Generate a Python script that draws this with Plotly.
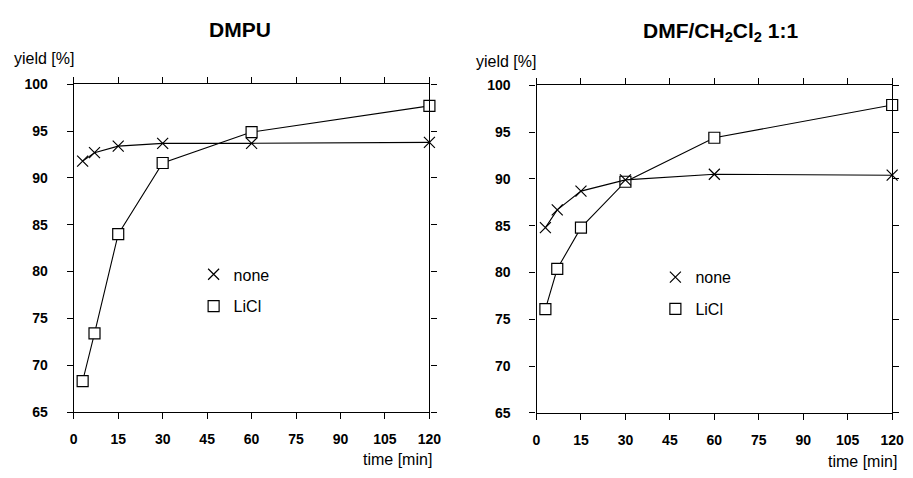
import plotly.graph_objects as go

# ---- data ----
time_min = [3, 7, 15, 30, 60, 120]
dmpu_none = [91.8, 92.7, 93.4, 93.7, 93.7, 93.8]
dmpu_licl = [68.3, 73.4, 84.0, 91.6, 94.9, 97.7]
dmf_none = [84.8, 86.7, 88.7, 89.9, 90.5, 90.4]
dmf_licl = [76.1, 80.4, 84.8, 89.7, 94.4, 97.9]
x_ticks = [0, 15, 30, 45, 60, 75, 90, 105, 120]
y_ticks = [65, 70, 75, 80, 85, 90, 95, 100]
panel_titles = ["DMPU", "DMF/CH<sub>2</sub>Cl<sub>2</sub> 1:1"]
series_names = ["none", "LiCl"]
y_label = "yield [%]"
x_label = "time [min]"

W, H = 913, 478
FONT = "Liberation Sans, Arial, Helvetica, sans-serif"


def fx(px):
    return px / W


def fy(py):
    return 1 - py / H


fig = go.Figure()

panels = [
    dict(none=dmpu_none, licl=dmpu_licl, xa="x", ya="y", leg="legend"),
    dict(none=dmf_none, licl=dmf_licl, xa="x2", ya="y2", leg="legend2"),
]

sym = {"none": dict(symbol="x-thin-open", size=11, color="black",
                    line=dict(color="black", width=1.2)),
       "LiCl": dict(symbol="square", size=11, color="white",
                    line=dict(color="black", width=1.2))}

for p in panels:
    for name, vals in (("LiCl", p["licl"]), ("none", p["none"])):
        fig.add_trace(go.Scatter(
            x=time_min, y=vals, mode="lines+markers", name=name,
            line=dict(color="black", width=1.1),
            marker=sym[name], cliponaxis=False, showlegend=False,
            xaxis=p["xa"], yaxis=p["ya"]))
    for i, name in enumerate(series_names):
        fig.add_trace(go.Scatter(
            x=[None], y=[None], mode="markers", name=name,
            marker=sym[name], legend=p["leg"], legendgroup=f"g{i}",
            xaxis=p["xa"], yaxis=p["ya"]))

axis_common = dict(
    showline=True, linecolor="black", linewidth=1.2, mirror="ticks",
    ticks="outside", ticklen=6, tickcolor="black", tickwidth=1,
    showgrid=False, zeroline=False,
    tickfont=dict(family=FONT, size=14, color="black", weight="bold"),
)

xdoms = [(71, 433), (542, 904)]
ydoms = [(79, 418), (80, 419)]

layout = dict(
    width=W, height=H, margin=dict(l=0, r=0, t=0, b=0),
    paper_bgcolor="white", plot_bgcolor="white",
    font=dict(family=FONT, color="black"),
)
for i, (xd, yd) in enumerate(zip(xdoms, ydoms)):
    sfx = "" if i == 0 else "2"
    layout["xaxis" + sfx] = dict(
        axis_common, domain=[fx(xd[0]), fx(xd[1])], range=[0, 120],
        tickvals=x_ticks, ticklabelstandoff=8,
        anchor="y" + sfx)
    layout["yaxis" + sfx] = dict(
        axis_common, domain=[fy(yd[1]), fy(yd[0])], range=[65, 100],
        tickvals=y_ticks, ticklabelstandoff=16,
        anchor="x" + sfx)

leg_common = dict(
    font=dict(family=FONT, size=16, color="black"),
    bgcolor="rgba(0,0,0,0)", xanchor="left", yanchor="top",
    tracegroupgap=8, traceorder="grouped", itemclick=False,
)
layout["legend"] = dict(leg_common, x=fx(193), y=fy(258))
layout["legend2"] = dict(leg_common, x=fx(663), y=fy(261))

fig.update_layout(**layout)

ann = []
title_centers = [(240, 22), (730, 25)]
for t, (cx, cy) in zip(panel_titles, title_centers):
    ann.append(dict(text=f"<b>{t}</b>", x=fx(cx), y=fy(cy), xref="paper",
                    yref="paper", showarrow=False, xanchor="center",
                    yanchor="middle",
                    font=dict(family=FONT, size=21, color="black")))
for lx, ly in [(8, 52), (478, 55)]:
    ann.append(dict(text=y_label, x=fx(lx), y=fy(ly), xref="paper",
                    yref="paper", showarrow=False, xanchor="left",
                    yanchor="middle",
                    font=dict(family=FONT, size=16, color="black")))
for rx, ry in [(438, 467), (911, 469)]:
    ann.append(dict(text=x_label, x=fx(rx), y=fy(ry), xref="paper",
                    yref="paper", showarrow=False, xanchor="right",
                    yanchor="middle",
                    font=dict(family=FONT, size=16, color="black")))
fig.update_layout(annotations=ann)

fig.write_html("out.html")
